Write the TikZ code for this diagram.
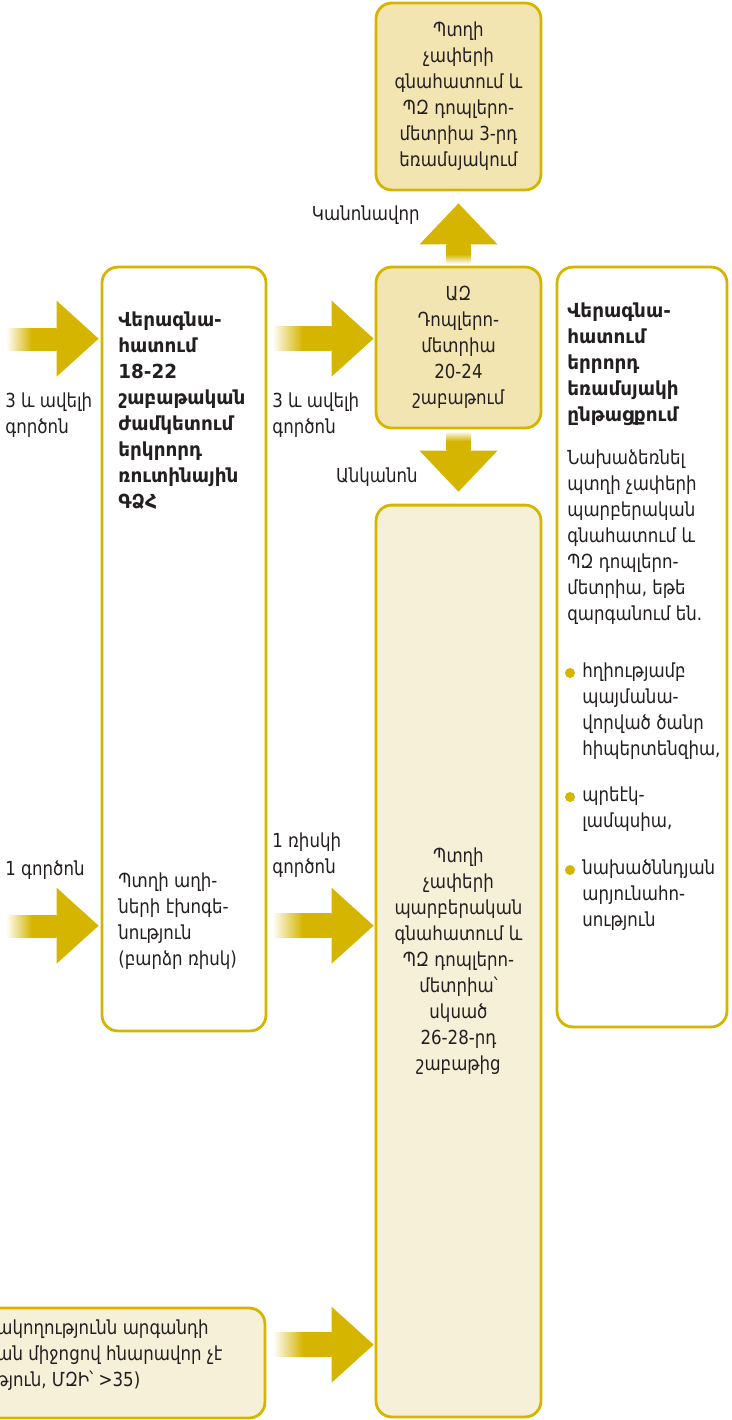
\documentclass[tikz,border=0pt]{standalone}
\usepackage{fontspec}
\setmainfont{DejaVu Sans}[FakeStretch=0.86, BoldFeatures={FakeStretch=0.95}]
\usetikzlibrary{calc}
\definecolor{gold}{RGB}{213,181,0}
\definecolor{boxfill}{RGB}{242,229,178}
\definecolor{palefill}{RGB}{247,240,217}
\definecolor{ink}{RGB}{35,31,32}

\newcommand{\hfat}[2]{%
  \shade[left color=gold!4, right color=gold, middle color=gold] ($(#1)+(0,-12)$) rectangle ($(#2)+(-42,12)$);
  \fill[gold] ($(#2)+(-42,-38)$) -- (#2) -- ($(#2)+(-42,38)$) -- cycle;}
\newcommand{\upfat}[2]{%
  \shade[bottom color=gold!4, top color=gold, middle color=gold] ($(#1)+(-12,0)$) rectangle ($(#2)+(12,41)$);
  \fill[gold] ($(#2)+(-39,41)$) -- (#2) -- ($(#2)+(39,41)$) -- cycle;}
\newcommand{\downfat}[2]{%
  \shade[top color=gold!4, bottom color=gold, middle color=gold] ($(#1)+(-12,0)$) rectangle ($(#2)+(12,-41)$);
  \fill[gold] ($(#2)+(-39,-41)$) -- (#2) -- ($(#2)+(39,-41)$) -- cycle;}

\begin{document}
\begin{tikzpicture}[x=0.02cm, y=-0.02cm,
  every node/.style={text=ink, font=\fontsize{11}{14.8}\selectfont},
  box/.style={draw=gold, line width=1.6pt, rounded corners=9pt, align=center, inner sep=0pt},
  txt/.style={align=left, inner sep=0pt, anchor=north west},
  head/.style={txt, font=\fontsize{11}{14.8}\selectfont\bfseries}]
\useasboundingbox (0,0) rectangle (731,1420);

\node[box, fill=boxfill, minimum width=3.3cm, minimum height=3.74cm] (T) at (458.5,96.5) {Պտղի\\չափերի\\գնահատում և\\ՊԶ դոպլերո-\\մետրիա 3-րդ\\եռամսյակում};
\node[box, fill=boxfill, minimum width=3.3cm, minimum height=3.22cm] (M) at (458.5,347.5) {ԱԶ\\Դոպլերո-\\մետրիա\\20-24\\շաբաթում};
\node[box, fill=palefill, minimum width=3.3cm, minimum height=18.24cm] (B) at (458.5,961) {Պտղի\\չափերի\\պարբերական\\գնահատում և\\ՊԶ դոպլերո-\\մետրիա՝\\սկսած\\26-28-րդ\\շաբաթից};
\node[box, fill=white, minimum width=3.28cm, minimum height=15.28cm] (L) at (184,649) {};
\node[box, fill=white, minimum width=3.4cm, minimum height=15.2cm] (R) at (642,647) {};
\node[box, fill=palefill, minimum width=7.7cm, minimum height=2.2cm] (BL) at (72.5,1363) {};

\node[head] (Lhead) at (118,311) {Վերագնա-\\հատում\\18-22\\շաբաթական\\ժամկետում\\երկրորդ\\ռուտինային\\ԳՁՀ};
\node[txt] (Lbody) at (118,872) {Պտղի աղի-\\ների էխոգե-\\նություն\\(բարձր ռիսկ)};
\node[head] (Rhead) at (567,302) {Վերագնա-\\հատում\\երրորդ\\եռամսյակի\\ընթացքում};
\node[txt] (Rbody) at (567,449) {Նախաձեռնել\\պտղի չափերի\\պարբերական\\գնահատում և\\ՊԶ դոպլերո-\\մետրիա, եթե\\զարգանում են.};
\node[txt] (Rb1) at (582,662) {հղիությամբ\\պայմանա-\\վորված ծանր\\հիպերտենզիա,};
\node[txt] (Rb2) at (582,786) {պրեէկ-\\լամպսիա,};
\node[txt] (Rb3) at (582,859) {նախածննդյան\\արյունահո-\\սություն};
\fill[gold] ($(Rb1.north west)+(-12,11)$) circle (5);
\fill[gold] ($(Rb2.north west)+(-12,11)$) circle (5);
\fill[gold] ($(Rb3.north west)+(-12,11)$) circle (5);
\node[txt, anchor=west] (BLtext) at (-4,1355) {ակողությունն արգանդի\\ան միջոցով հնարավոր չէ\\թյուն, ՄԶԻ՝ >35)};

\node[txt] (f3a) at (5,392) {3 և ավելի\\գործոն};
\node[txt] (f3b) at (272,392) {3 և ավելի\\գործոն};
\node[anchor=east, inner sep=0pt] (reg) at (420,215) {Կանոնավոր};
\node[anchor=east, inner sep=0pt] (irreg) at (418,477) {Անկանոն};
\node[anchor=west, inner sep=0pt] (f1a) at (5,870) {1 գործոն};
\node[txt] (f1b) at (272,832) {1 ռիսկի\\գործոն};

\coordinate (in1) at (7,340);
\coordinate (in2) at (7,927);
\coordinate (tipL1) at ($(L.north west)+(-2,73)$);
\coordinate (tipL2) at ($(L.north west)+(-2,660)$);
\coordinate (outL1) at ($(L.north east)+(6,73)$);
\coordinate (outL2) at ($(L.north east)+(6,660)$);
\coordinate (tipM) at ($(M.north west)+(-1,73)$);
\coordinate (tipB1) at ($(B.north west)+(-1,422)$);
\coordinate (outBL) at ($(BL.north east)+(8,38)$);
\coordinate (tipB2) at ($(B.north west)+(-1,841)$);
\coordinate (outMup) at ($(M.north)+(0,-2)$);
\coordinate (tipT) at ($(T.south)+(0,12)$);
\coordinate (outMdn) at ($(M.south)+(0,2)$);
\coordinate (tipB) at ($(B.north)+(0,-12)$);

\hfat{in1}{tipL1}
\hfat{in2}{tipL2}
\hfat{outL1}{tipM}
\hfat{outL2}{tipB1}
\hfat{outBL}{tipB2}
\upfat{outMup}{tipT}
\downfat{outMdn}{tipB}
\end{tikzpicture}
\end{document}
